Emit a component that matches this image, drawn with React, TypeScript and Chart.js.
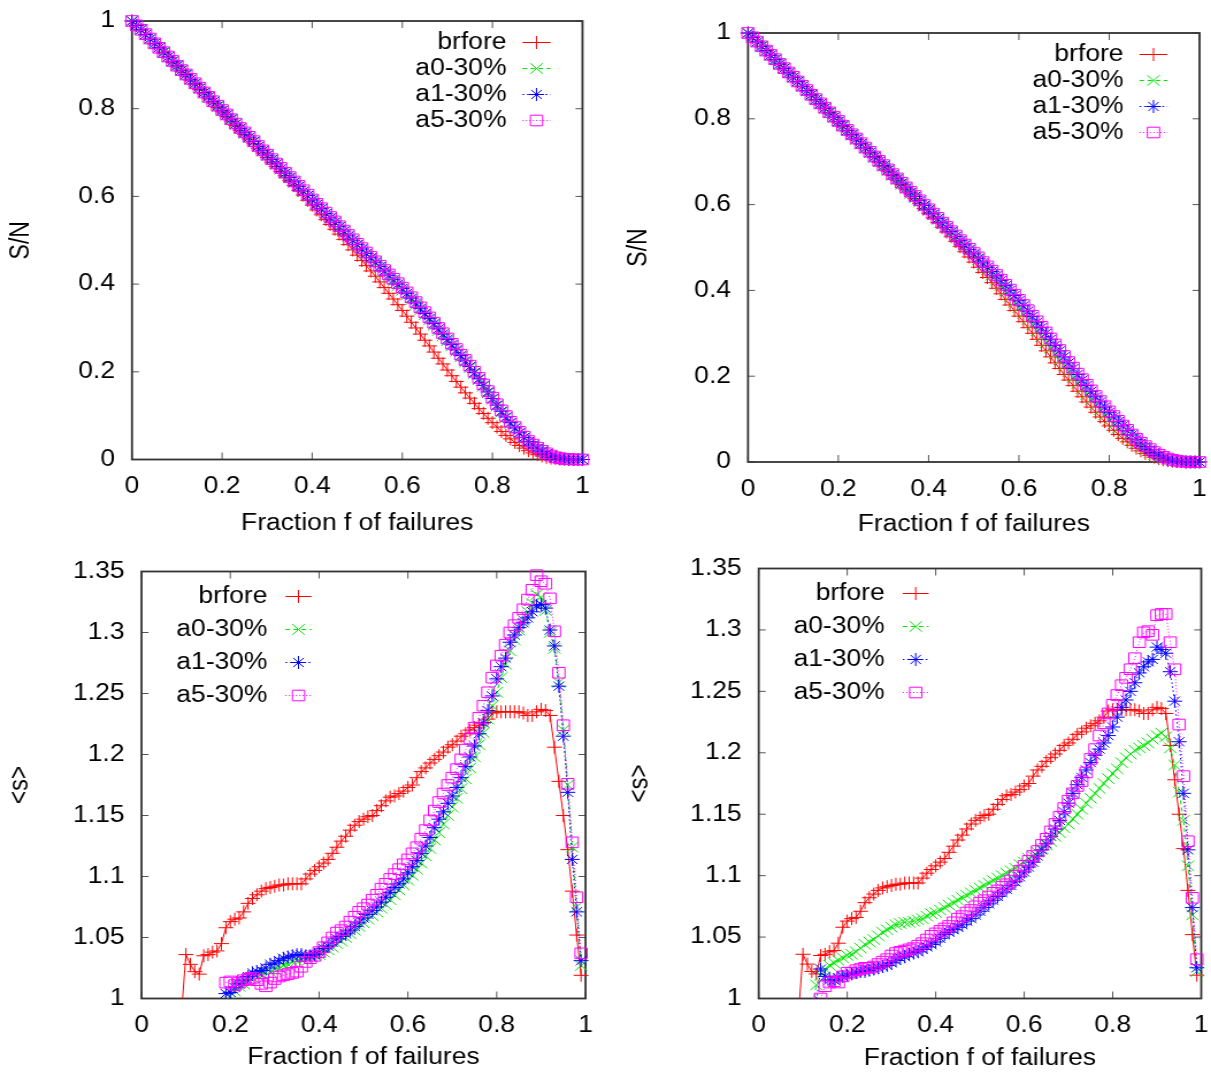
import React, { useEffect, useRef } from 'react';
import { Chart, registerables } from 'chart.js';

Chart.register(...registerables);

const FONT = "'Liberation Sans', Arial, Helvetica, sans-serif";
const FONT_SIZE = 23;
const LINE_H = FONT_SIZE * 1.2;
// the backing store is narrower than the page box; CSS widens it
const SX = 1.15;

// failure fraction f, one entry per measured point
const fractions = [
  0, 0.01, 0.02, 0.03, 0.04, 0.05, 0.06, 0.07, 0.08, 0.09,
  0.1, 0.11, 0.12, 0.13, 0.14, 0.15, 0.16, 0.17, 0.18, 0.19,
  0.2, 0.21, 0.22, 0.23, 0.24, 0.25, 0.26, 0.27, 0.28, 0.29,
  0.3, 0.31, 0.32, 0.33, 0.34, 0.35, 0.36, 0.37, 0.38, 0.39,
  0.4, 0.41, 0.42, 0.43, 0.44, 0.45, 0.46, 0.47, 0.48, 0.49,
  0.5, 0.51, 0.52, 0.53, 0.54, 0.55, 0.56, 0.57, 0.58, 0.59,
  0.6, 0.61, 0.62, 0.63, 0.64, 0.65, 0.66, 0.67, 0.68, 0.69,
  0.7, 0.71, 0.72, 0.73, 0.74, 0.75, 0.76, 0.77, 0.78, 0.79,
  0.8, 0.81, 0.82, 0.83, 0.84, 0.85, 0.86, 0.87, 0.88, 0.89,
  0.9, 0.91, 0.92, 0.93, 0.94, 0.95, 0.96, 0.97, 0.98, 0.99,
  1,
];

const seriesLabels = ['brfore', 'a0-30%', 'a1-30%', 'a5-30%'];
const fractionTickLabels = ['0', '0.2', '0.4', '0.6', '0.8', '1'];
const shareTickLabels = ['0', '0.2', '0.4', '0.6', '0.8', '1'];
const sizeTickLabels = ['1', '1.05', '1.1', '1.15', '1.2', '1.25', '1.3', '1.35'];

// ---- S/N, relative size of the giant component (all start at f = 0) ----
const brforeShare = [
  1.000, 0.990, 0.979, 0.969, 0.958, 0.948, 0.938, 0.927, 0.917, 0.906,
  0.896, 0.886, 0.875, 0.865, 0.855, 0.844, 0.834, 0.824, 0.813, 0.803,
  0.793, 0.782, 0.772, 0.762, 0.751, 0.741, 0.731, 0.720, 0.710, 0.699,
  0.689, 0.678, 0.668, 0.657, 0.647, 0.636, 0.625, 0.614, 0.603, 0.591,
  0.580, 0.569, 0.558, 0.547, 0.536, 0.525, 0.514, 0.502, 0.490, 0.478,
  0.466, 0.454, 0.442, 0.430, 0.418, 0.405, 0.392, 0.379, 0.366, 0.353,
  0.340, 0.327, 0.313, 0.300, 0.286, 0.272, 0.259, 0.245, 0.231, 0.218,
  0.204, 0.191, 0.178, 0.165, 0.152, 0.140, 0.128, 0.116, 0.105, 0.094,
  0.084, 0.074, 0.064, 0.055, 0.047, 0.039, 0.032, 0.026, 0.020, 0.015,
  0.011, 0.008, 0.005, 0.003, 0.002, 0.001, 0.001, 0, 0, 0, 0,
];

const a0ShareLeft = [
  1.000, 0.990, 0.980, 0.969, 0.959, 0.949, 0.939, 0.928, 0.918, 0.908,
  0.898, 0.887, 0.877, 0.867, 0.857, 0.846, 0.836, 0.826, 0.816, 0.805,
  0.795, 0.785, 0.775, 0.765, 0.754, 0.744, 0.734, 0.724, 0.713, 0.703,
  0.693, 0.683, 0.673, 0.662, 0.652, 0.642, 0.632, 0.622, 0.611, 0.601,
  0.591, 0.581, 0.571, 0.560, 0.550, 0.540, 0.530, 0.520, 0.509, 0.499,
  0.489, 0.479, 0.468, 0.458, 0.448, 0.438, 0.428, 0.417, 0.406, 0.396,
  0.386, 0.375, 0.364, 0.353, 0.341, 0.330, 0.318, 0.306, 0.294, 0.282,
  0.271, 0.259, 0.247, 0.234, 0.222, 0.209, 0.196, 0.182, 0.167, 0.152,
  0.137, 0.122, 0.108, 0.095, 0.082, 0.071, 0.060, 0.049, 0.040, 0.032,
  0.025, 0.018, 0.012, 0.008, 0.005, 0.002, 0.001, 0, 0, 0, 0,
];

const a1ShareLeft = [
  1.000, 0.990, 0.980, 0.969, 0.959, 0.949, 0.939, 0.929, 0.918, 0.908,
  0.898, 0.888, 0.878, 0.867, 0.857, 0.847, 0.837, 0.827, 0.816, 0.806,
  0.796, 0.786, 0.776, 0.765, 0.755, 0.745, 0.735, 0.725, 0.714, 0.704,
  0.694, 0.684, 0.674, 0.663, 0.653, 0.643, 0.633, 0.623, 0.612, 0.602,
  0.592, 0.582, 0.572, 0.561, 0.551, 0.541, 0.531, 0.521, 0.510, 0.500,
  0.490, 0.480, 0.470, 0.460, 0.450, 0.440, 0.430, 0.420, 0.410, 0.400,
  0.390, 0.379, 0.368, 0.357, 0.345, 0.333, 0.322, 0.310, 0.298, 0.286,
  0.274, 0.262, 0.250, 0.237, 0.225, 0.212, 0.198, 0.184, 0.169, 0.154,
  0.139, 0.124, 0.110, 0.097, 0.084, 0.072, 0.061, 0.050, 0.041, 0.033,
  0.026, 0.019, 0.013, 0.008, 0.005, 0.003, 0.001, 0, 0, 0, 0,
];

const a5ShareLeft = [
  1.000, 0.990, 0.980, 0.970, 0.960, 0.949, 0.939, 0.929, 0.919, 0.909,
  0.898, 0.888, 0.878, 0.868, 0.858, 0.848, 0.837, 0.827, 0.817, 0.807,
  0.797, 0.787, 0.776, 0.766, 0.756, 0.746, 0.736, 0.726, 0.715, 0.705,
  0.695, 0.685, 0.675, 0.665, 0.654, 0.644, 0.634, 0.624, 0.614, 0.604,
  0.593, 0.583, 0.573, 0.563, 0.553, 0.543, 0.532, 0.522, 0.512, 0.502,
  0.492, 0.482, 0.472, 0.462, 0.452, 0.442, 0.432, 0.422, 0.412, 0.402,
  0.392, 0.381, 0.370, 0.359, 0.347, 0.336, 0.324, 0.312, 0.300, 0.288,
  0.276, 0.264, 0.252, 0.239, 0.227, 0.214, 0.200, 0.186, 0.171, 0.156,
  0.141, 0.126, 0.112, 0.099, 0.086, 0.074, 0.063, 0.052, 0.042, 0.034,
  0.027, 0.020, 0.014, 0.009, 0.005, 0.003, 0.001, 0.001, 0, 0, 0,
];

const a0ShareRight = [
  1.000, 0.990, 0.979, 0.969, 0.958, 0.948, 0.938, 0.927, 0.917, 0.907,
  0.896, 0.886, 0.876, 0.865, 0.855, 0.845, 0.834, 0.824, 0.814, 0.803,
  0.793, 0.783, 0.772, 0.762, 0.752, 0.741, 0.731, 0.721, 0.710, 0.700,
  0.689, 0.679, 0.668, 0.658, 0.647, 0.637, 0.626, 0.616, 0.606, 0.596,
  0.586, 0.576, 0.566, 0.555, 0.545, 0.535, 0.525, 0.514, 0.504, 0.494,
  0.483, 0.472, 0.460, 0.448, 0.436, 0.424, 0.412, 0.399, 0.386, 0.373,
  0.360, 0.346, 0.333, 0.320, 0.306, 0.293, 0.279, 0.266, 0.252, 0.238,
  0.225, 0.211, 0.197, 0.184, 0.171, 0.158, 0.146, 0.134, 0.122, 0.110,
  0.099, 0.089, 0.079, 0.069, 0.060, 0.051, 0.043, 0.035, 0.029, 0.023,
  0.017, 0.012, 0.008, 0.005, 0.003, 0.001, 0, 0, 0, 0, 0,
];

const a1ShareRight = [
  1.000, 0.990, 0.979, 0.969, 0.959, 0.948, 0.938, 0.928, 0.918, 0.907,
  0.897, 0.887, 0.876, 0.866, 0.856, 0.845, 0.835, 0.825, 0.815, 0.804,
  0.794, 0.784, 0.773, 0.763, 0.753, 0.742, 0.732, 0.722, 0.712, 0.701,
  0.691, 0.681, 0.670, 0.660, 0.650, 0.639, 0.629, 0.619, 0.609, 0.598,
  0.588, 0.578, 0.567, 0.557, 0.547, 0.537, 0.526, 0.516, 0.506, 0.495,
  0.485, 0.475, 0.464, 0.454, 0.444, 0.434, 0.423, 0.411, 0.400, 0.388,
  0.376, 0.364, 0.352, 0.339, 0.326, 0.313, 0.300, 0.286, 0.272, 0.259,
  0.245, 0.231, 0.218, 0.204, 0.191, 0.178, 0.165, 0.152, 0.140, 0.128,
  0.116, 0.105, 0.094, 0.084, 0.073, 0.063, 0.053, 0.044, 0.036, 0.029,
  0.022, 0.016, 0.011, 0.007, 0.004, 0.002, 0.001, 0, 0, 0, 0,
];

const a5ShareRight = [
  1.000, 0.990, 0.980, 0.969, 0.959, 0.949, 0.939, 0.928, 0.918, 0.908,
  0.898, 0.887, 0.877, 0.867, 0.856, 0.846, 0.836, 0.826, 0.815, 0.805,
  0.795, 0.784, 0.774, 0.764, 0.754, 0.743, 0.733, 0.723, 0.712, 0.702,
  0.692, 0.682, 0.671, 0.661, 0.651, 0.640, 0.630, 0.620, 0.610, 0.599,
  0.589, 0.579, 0.569, 0.558, 0.548, 0.538, 0.528, 0.517, 0.507, 0.497,
  0.487, 0.477, 0.466, 0.456, 0.446, 0.436, 0.425, 0.413, 0.402, 0.390,
  0.378, 0.366, 0.354, 0.341, 0.328, 0.315, 0.302, 0.288, 0.274, 0.261,
  0.247, 0.233, 0.220, 0.206, 0.193, 0.180, 0.167, 0.154, 0.142, 0.130,
  0.118, 0.107, 0.096, 0.085, 0.075, 0.064, 0.054, 0.045, 0.037, 0.030,
  0.023, 0.017, 0.012, 0.008, 0.005, 0.003, 0.001, 0.001, 0, 0, 0,
];

// ---- <s>, mean size of the finite clusters; each list starts at fractions[...From] ----
const brforeSizeFrom = 9;
const brforeSize = [
  0.988, 1.036, 1.028, 1.022, 1.020, 1.035, 1.036, 1.038, 1.039, 1.045,
  1.058, 1.063, 1.065, 1.066, 1.071, 1.078, 1.082, 1.085, 1.088, 1.090,
  1.091, 1.092, 1.093, 1.093, 1.094, 1.094, 1.094, 1.094, 1.098, 1.102,
  1.105, 1.108, 1.111, 1.114, 1.119, 1.124, 1.129, 1.133, 1.138, 1.142,
  1.145, 1.147, 1.149, 1.150, 1.154, 1.158, 1.162, 1.165, 1.166, 1.168,
  1.170, 1.173, 1.175, 1.181, 1.186, 1.189, 1.193, 1.196, 1.199, 1.202,
  1.206, 1.208, 1.211, 1.215, 1.217, 1.220, 1.222, 1.224, 1.226, 1.229,
  1.234, 1.235, 1.235, 1.235, 1.235, 1.235, 1.235, 1.234, 1.232, 1.232,
  1.235, 1.237, 1.236, 1.232, 1.206, 1.178, 1.150, 1.122, 1.088, 1.052,
  1.019,
];

const a0SizeLeftFrom = 20;
const a0SizeLeft = [
  1.002, 1.006, 1.010, 1.012, 1.015, 1.017, 1.019, 1.020, 1.021, 1.022,
  1.024, 1.025, 1.027, 1.028, 1.030, 1.031, 1.032, 1.033, 1.034, 1.035,
  1.036, 1.038, 1.040, 1.042, 1.045, 1.047, 1.050, 1.053, 1.056, 1.059,
  1.062, 1.065, 1.068, 1.071, 1.074, 1.077, 1.081, 1.085, 1.089, 1.093,
  1.097, 1.101, 1.106, 1.111, 1.117, 1.123, 1.130, 1.136, 1.143, 1.150,
  1.157, 1.164, 1.172, 1.180, 1.189, 1.198, 1.208, 1.218, 1.229, 1.240,
  1.251, 1.263, 1.274, 1.285, 1.294, 1.302, 1.310, 1.317, 1.324, 1.331,
  1.329, 1.318, 1.300, 1.287, 1.259, 1.220, 1.175, 1.124, 1.075, 1.027,
];

const a1SizeLeftFrom = 19;
const a1SizeLeft = [
  1.004,
  1.005, 1.009, 1.012, 1.015, 1.018, 1.021, 1.022, 1.023, 1.025, 1.028,
  1.029, 1.031, 1.033, 1.034, 1.035, 1.036, 1.036, 1.035, 1.035, 1.036,
  1.038, 1.041, 1.043, 1.046, 1.049, 1.051, 1.053, 1.056, 1.059, 1.062,
  1.066, 1.069, 1.072, 1.075, 1.079, 1.083, 1.087, 1.091, 1.094, 1.098,
  1.103, 1.108, 1.113, 1.119, 1.125, 1.132, 1.140, 1.147, 1.153, 1.160,
  1.166, 1.173, 1.181, 1.190, 1.198, 1.207, 1.217, 1.226, 1.236, 1.248,
  1.262, 1.272, 1.279, 1.292, 1.298, 1.304, 1.308, 1.312, 1.317, 1.322,
  1.323, 1.320, 1.302, 1.289, 1.256, 1.215, 1.169, 1.114, 1.071, 1.031,
];

const a5SizeLeftFrom = 19;
const a5SizeLeft = [
  1.013,
  1.014, 1.011, 1.013, 1.015, 1.016, 1.017, 1.015, 1.012, 1.010, 1.013,
  1.016, 1.018, 1.019, 1.020, 1.021, 1.022, 1.026, 1.030, 1.033, 1.035,
  1.038, 1.042, 1.046, 1.050, 1.054, 1.056, 1.059, 1.063, 1.067, 1.071,
  1.074, 1.077, 1.081, 1.085, 1.090, 1.094, 1.098, 1.102, 1.106, 1.110,
  1.114, 1.119, 1.124, 1.131, 1.138, 1.146, 1.154, 1.161, 1.168, 1.175,
  1.181, 1.188, 1.196, 1.204, 1.213, 1.222, 1.230, 1.240, 1.251, 1.263,
  1.273, 1.281, 1.290, 1.300, 1.306, 1.312, 1.319, 1.327, 1.335, 1.347,
  1.342, 1.340, 1.328, 1.301, 1.267, 1.224, 1.176, 1.128, 1.083, 1.037,
];

const a0SizeRightFrom = 12;
const a0SizeRight = [
  0.990, 1.011, 1.019, 1.024, 1.027, 1.029, 1.031, 1.033,
  1.035, 1.036, 1.038, 1.041, 1.044, 1.046, 1.048, 1.051, 1.054, 1.056,
  1.058, 1.060, 1.061, 1.062, 1.062, 1.063, 1.064, 1.065, 1.067, 1.069,
  1.070, 1.072, 1.074, 1.076, 1.078, 1.080, 1.082, 1.084, 1.086, 1.088,
  1.090, 1.092, 1.094, 1.096, 1.098, 1.100, 1.102, 1.104, 1.106, 1.109,
  1.111, 1.114, 1.116, 1.119, 1.122, 1.125, 1.128, 1.132, 1.135, 1.139,
  1.142, 1.146, 1.150, 1.154, 1.159, 1.163, 1.167, 1.171, 1.175, 1.179,
  1.183, 1.187, 1.192, 1.196, 1.199, 1.202, 1.204, 1.206, 1.208, 1.211,
  1.214, 1.216, 1.213, 1.204, 1.190, 1.168, 1.145, 1.108, 1.068, 1.022,
];

const a1SizeRightFrom = 13;
const a1SizeRight = [
  0.996, 1.024, 1.018, 1.015, 1.015, 1.017, 1.018,
  1.019, 1.020, 1.021, 1.022, 1.022, 1.023, 1.024, 1.025, 1.026, 1.027,
  1.029, 1.031, 1.033, 1.034, 1.036, 1.037, 1.038, 1.040, 1.042, 1.044,
  1.046, 1.049, 1.052, 1.054, 1.056, 1.058, 1.060, 1.063, 1.065, 1.068,
  1.071, 1.074, 1.077, 1.080, 1.083, 1.086, 1.089, 1.092, 1.095, 1.099,
  1.103, 1.107, 1.111, 1.116, 1.121, 1.126, 1.132, 1.138, 1.145, 1.152,
  1.159, 1.167, 1.174, 1.180, 1.186, 1.192, 1.198, 1.203, 1.208, 1.214,
  1.221, 1.229, 1.237, 1.243, 1.250, 1.257, 1.265, 1.270, 1.274, 1.276,
  1.286, 1.284, 1.281, 1.266, 1.242, 1.209, 1.167, 1.121, 1.074, 1.025,
];

const a5SizeRightFrom = 14;
const a5SizeRight = [
  1.000, 1.010, 1.013, 1.014, 1.013, 1.018,
  1.021, 1.021, 1.023, 1.024, 1.025, 1.025, 1.026, 1.028, 1.030, 1.032,
  1.035, 1.037, 1.038, 1.039, 1.040, 1.041, 1.043, 1.045, 1.048, 1.051,
  1.053, 1.055, 1.057, 1.059, 1.062, 1.065, 1.067, 1.070, 1.072, 1.075,
  1.078, 1.080, 1.083, 1.086, 1.088, 1.091, 1.093, 1.096, 1.100, 1.104,
  1.108, 1.112, 1.116, 1.120, 1.125, 1.130, 1.136, 1.142, 1.148, 1.155,
  1.161, 1.167, 1.173, 1.177, 1.184, 1.195, 1.203, 1.214, 1.224, 1.232,
  1.239, 1.247, 1.255, 1.261, 1.268, 1.277, 1.290, 1.298, 1.299, 1.296,
  1.312, 1.313, 1.313, 1.290, 1.268, 1.223, 1.181, 1.128, 1.082, 1.032,
];

// line / marker look of the four series, in legend order
const seriesStyles = [
  { color: '#ff0000', dash: [] as number[], pointStyle: 'cross', radius: 6.5 },
  { color: '#00e600', dash: [4, 3], pointStyle: 'crossRot', radius: 7.5 },
  { color: '#0000ff', dash: [1.5, 2.5], pointStyle: 'star', radius: 6.5 },
  { color: '#ff00ff', dash: [1, 2], pointStyle: 'rect', radius: 7.5 },
];

type Series = { values: number[]; from: number };
type Panel = {
  box: { left: number; top: number; width: number; height: number };
  frame: { l: number; r: number; t: number; b: number };
  yTitle: string;
  yTitleX: number;
  xTitleY: number;
  yMin: number;
  yMax: number;
  yStep: number;
  yLabels: string[];
  series: Series[];
  key: 'right' | 'left';
  clipBottom: number;
};

const shareCommon = { yTitle: 'S/N', yMin: 0, yMax: 1, yStep: 0.2, yLabels: shareTickLabels, key: 'right' as const, clipBottom: 8 };
const sizeCommon = { yTitle: '<s>', yMin: 1, yMax: 1.35, yStep: 0.05, yLabels: sizeTickLabels, key: 'left' as const, clipBottom: 0 };

const panels: Panel[] = [
  {
    ...shareCommon,
    box: { left: 0, top: 0, width: 605, height: 540 },
    frame: { l: 132, r: 582.5, t: 21, b: 459.5 },
    yTitleX: 22,
    xTitleY: 524,
    series: [
      { values: brforeShare, from: 0 },
      { values: a0ShareLeft, from: 0 },
      { values: a1ShareLeft, from: 0 },
      { values: a5ShareLeft, from: 0 },
    ],
  },
  {
    ...shareCommon,
    box: { left: 605, top: 0, width: 606, height: 540 },
    frame: { l: 748, r: 1199.5, t: 33, b: 462 },
    yTitleX: 639,
    xTitleY: 525,
    series: [
      { values: brforeShare, from: 0 },
      { values: a0ShareRight, from: 0 },
      { values: a1ShareRight, from: 0 },
      { values: a5ShareRight, from: 0 },
    ],
  },
  {
    ...sizeCommon,
    box: { left: 0, top: 540, width: 605, height: 534 },
    frame: { l: 141.5, r: 585.5, t: 571.5, b: 998.5 },
    yTitleX: 20,
    xTitleY: 1058,
    series: [
      { values: brforeSize, from: brforeSizeFrom },
      { values: a0SizeLeft, from: a0SizeLeftFrom },
      { values: a1SizeLeft, from: a1SizeLeftFrom },
      { values: a5SizeLeft, from: a5SizeLeftFrom },
    ],
  },
  {
    ...sizeCommon,
    box: { left: 605, top: 540, width: 606, height: 534 },
    frame: { l: 758.7, r: 1202, t: 568.5, b: 998.5 },
    yTitleX: 640,
    xTitleY: 1059,
    series: [
      { values: brforeSize, from: brforeSizeFrom },
      { values: a0SizeRight, from: a0SizeRightFrom },
      { values: a1SizeRight, from: a1SizeRightFrom },
      { values: a5SizeRight, from: a5SizeRightFrom },
    ],
  },
];

function strokeMarker(ctx: CanvasRenderingContext2D, style: string, x: number, y: number, r: number) {
  const d = Math.SQRT1_2 * r;
  ctx.beginPath();
  if (style === 'cross' || style === 'star') {
    ctx.moveTo(x, y - r);
    ctx.lineTo(x, y + r);
    ctx.moveTo(x - r, y);
    ctx.lineTo(x + r, y);
  }
  if (style === 'crossRot' || style === 'star') {
    ctx.moveTo(x - d, y - d);
    ctx.lineTo(x + d, y + d);
    ctx.moveTo(x - d, y + d);
    ctx.lineTo(x + d, y - d);
  }
  if (style === 'rect') ctx.rect(x - d, y - d, 2 * d, 2 * d);
  ctx.stroke();
}

// gnuplot-like border with inward ticks on all four sides
function makeFramePlugin(sx: number) {
  return {
    id: 'gnuFrame',
    beforeDatasetsDraw(chart: any) {
      const { ctx, chartArea: a, scales } = chart;
      ctx.save();
      ctx.strokeStyle = '#555';
      ctx.lineWidth = 1;
      const tickV = 7;
      const tickH = 7 / sx;
      ctx.beginPath();
      for (const t of scales.x.ticks) {
        const px = scales.x.getPixelForValue(t.value);
        ctx.moveTo(px, a.bottom);
        ctx.lineTo(px, a.bottom - tickV);
        ctx.moveTo(px, a.top);
        ctx.lineTo(px, a.top + tickV);
      }
      for (const t of scales.y.ticks) {
        const py = scales.y.getPixelForValue(t.value);
        ctx.moveTo(a.left, py);
        ctx.lineTo(a.left + tickH, py);
        ctx.moveTo(a.right, py);
        ctx.lineTo(a.right - tickH, py);
      }
      ctx.stroke();
      ctx.strokeStyle = '#333';
      ctx.lineWidth = 1.8;
      ctx.strokeRect(a.left, a.top, a.right - a.left, a.bottom - a.top);
      ctx.restore();
    },
  };
}

// key in gnuplot layout: label right-aligned, then a line sample with its marker
function makeKeyPlugin(panel: Panel, sx: number) {
  const top = panel.key === 'right';
  const spec = top
    ? { textDx: -76, lineFrom: -60, lineTo: -32, markDx: -46, row0: 21.5, rowStep: 26 }
    : { textDx: 126, lineFrom: 144, lineTo: 170, markDx: 157, row0: 25, rowStep: 33 };
  return {
    id: 'gnuKey',
    afterDatasetsDraw(chart: any) {
      const { ctx, chartArea } = chart;
      const ax = top ? chartArea.right : chartArea.left;
      ctx.save();
      ctx.font = `${FONT_SIZE}px ${FONT}`;
      ctx.textAlign = 'right';
      ctx.textBaseline = 'middle';
      seriesLabels.forEach((label, i) => {
        const st = seriesStyles[i];
        const y = chartArea.top + spec.row0 + i * spec.rowStep;
        ctx.fillStyle = '#000';
        ctx.fillText(label, ax + spec.textDx / sx, y);
        ctx.strokeStyle = st.color;
        ctx.lineWidth = 1;
        ctx.setLineDash(st.dash);
        ctx.beginPath();
        ctx.moveTo(ax + spec.lineFrom / sx, y);
        ctx.lineTo(ax + spec.lineTo / sx, y);
        ctx.stroke();
        ctx.setLineDash([]);
        strokeMarker(ctx, st.pointStyle, ax + spec.markDx / sx, y, st.radius);
      });
      ctx.restore();
    },
  };
}

function buildConfig(panel: Panel, backingWidth: number): any {
  const { box, frame } = panel;
  const sx = box.width / backingWidth;
  const font = { family: FONT, size: FONT_SIZE };
  const datasets = panel.series.map((s, i) => {
    const st = seriesStyles[i];
    return {
      label: seriesLabels[i],
      data: s.values.map((y, k) => ({ x: fractions[s.from + k], y })),
      borderColor: st.color,
      borderWidth: 1,
      borderDash: st.dash,
      pointStyle: st.pointStyle,
      pointRadius: st.radius,
      pointBorderColor: st.color,
      pointBackgroundColor: 'rgba(0,0,0,0)',
      pointBorderWidth: 1,
      tension: 0,
      fill: false,
      order: 3 - i,
      clip: { left: 8, right: 8, top: 8, bottom: panel.clipBottom },
    };
  });

  return {
    type: 'line',
    data: { datasets },
    plugins: [makeFramePlugin(sx), makeKeyPlugin(panel, sx)],
    options: {
      responsive: false,
      animation: false,
      events: [],
      layout: {
        padding: {
          top: frame.t - box.top,
          right: (box.left + box.width - frame.r) / sx,
          bottom: 0,
          left: 0,
        },
      },
      plugins: { legend: { display: false }, tooltip: { enabled: false } },
      scales: {
        x: {
          type: 'linear',
          min: 0,
          max: 1,
          grid: { display: false, drawTicks: false },
          border: { display: false },
          ticks: {
            stepSize: 0.2,
            autoSkip: false,
            maxRotation: 0,
            padding: 27.3 - LINE_H / 2,
            color: '#000',
            font,
            callback: (_v: number, i: number) => fractionTickLabels[i],
          },
          title: {
            display: true,
            text: 'Fraction f of failures',
            color: '#000',
            font,
            padding: { top: 0, bottom: Math.max(0, box.top + box.height - panel.xTitleY - LINE_H / 2) },
          },
          afterFit: (scale: any) => {
            scale.height = box.top + box.height - frame.b;
            scale.paddingLeft = 0;
            scale.paddingRight = 0;
          },
        },
        y: {
          type: 'linear',
          min: panel.yMin,
          max: panel.yMax,
          grid: { display: false, drawTicks: false },
          border: { display: false },
          ticks: {
            stepSize: panel.yStep,
            autoSkip: false,
            padding: 17 / sx,
            color: '#000',
            font,
            callback: (_v: number, i: number) => panel.yLabels[i],
          },
          title: {
            display: true,
            text: panel.yTitle,
            color: '#000',
            font,
            padding: { top: Math.max(0, (panel.yTitleX - box.left) / sx - LINE_H / 2), bottom: 0 },
          },
          afterFit: (scale: any) => {
            scale.width = (frame.l - box.left) / sx;
            scale.paddingTop = 0;
            scale.paddingBottom = 0;
          },
        },
      },
    },
  };
}

function PanelChart({ panel }: { panel: Panel }) {
  const ref = useRef<HTMLCanvasElement>(null);
  const backingWidth = Math.round(panel.box.width / SX);
  useEffect(() => {
    if (!ref.current) return;
    const chart = new Chart(ref.current, buildConfig(panel, backingWidth));
    return () => chart.destroy();
  }, [panel, backingWidth]);
  return (
    <canvas
      ref={ref}
      width={backingWidth}
      height={panel.box.height}
      style={{
        position: 'absolute',
        left: panel.box.left,
        top: panel.box.top,
        width: panel.box.width,
        height: panel.box.height,
      }}
    />
  );
}

export default function App() {
  Chart.defaults.font.family = FONT;
  return (
    <div style={{ position: 'absolute', left: 0, top: 0, width: 1211, height: 1074, background: '#fff' }}>
      {panels.map((p, i) => (
        <PanelChart key={i} panel={p} />
      ))}
    </div>
  );
}
